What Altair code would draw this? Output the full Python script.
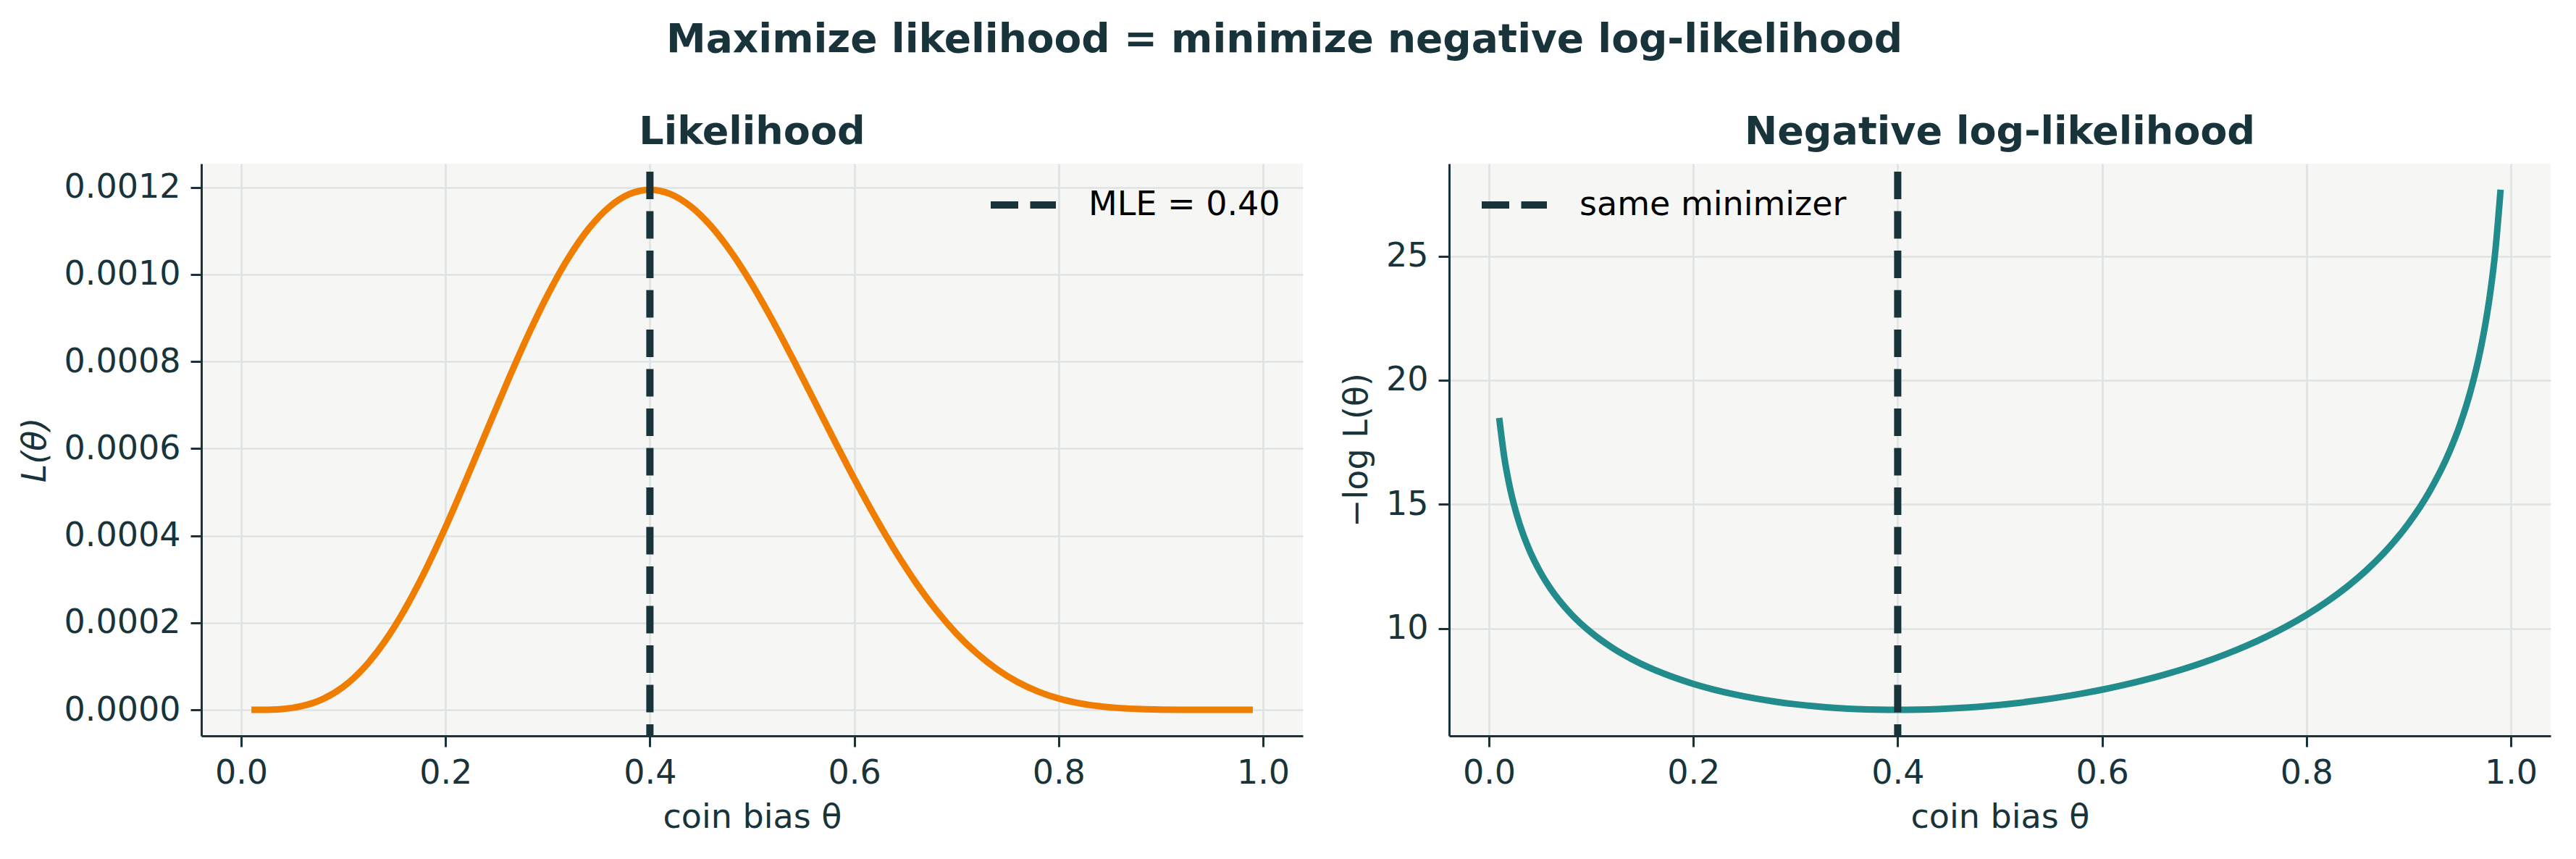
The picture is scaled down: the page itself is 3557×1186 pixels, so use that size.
import altair as alt
import pandas as pd

# ---- data (coin bias grid, likelihood, negative log-likelihood)
theta = [0.01, 0.015, 0.02, 0.025, 0.03, 0.04, 0.05, 0.06, 0.08, 0.10,
         0.12, 0.14, 0.16, 0.18, 0.20, 0.22, 0.24, 0.26, 0.28, 0.30,
         0.32, 0.34, 0.36, 0.38, 0.40, 0.42, 0.44, 0.46, 0.48, 0.50,
         0.52, 0.54, 0.56, 0.58, 0.60, 0.62, 0.64, 0.66, 0.68, 0.70,
         0.72, 0.74, 0.76, 0.78, 0.80, 0.82, 0.84, 0.86, 0.88, 0.90,
         0.92, 0.94, 0.95, 0.96, 0.965, 0.97, 0.975, 0.98, 0.985, 0.99]

likelihood = [9.41e-9, 4.62e-8, 1.417e-7, 3.356e-7, 6.747e-7, 2.004e-6, 4.594e-6, 8.941e-6, 2.4838e-5, 5.3144e-5,
              9.630e-5, 1.5542e-4, 2.3023e-4, 3.1914e-4, 4.1943e-4, 5.2761e-4, 6.3933e-4, 7.5038e-4, 8.5630e-4, 9.5296e-4,
              1.03670e-3, 1.10454e-3, 1.15422e-3, 1.18436e-3, 1.19439e-3, 1.18459e-3, 1.15595e-3, 1.11018e-3, 1.04953e-3, 9.7656e-4,
              8.9428e-4, 8.0560e-4, 7.1362e-4, 6.2116e-4, 5.3084e-4, 4.4490e-4, 3.6521e-4, 2.9312e-4, 2.2957e-4, 1.7503e-4,
              1.2950e-4, 9.263e-5, 6.375e-5, 4.197e-5, 2.621e-5, 1.538e-5, 8.35e-6, 4.12e-6, 1.79e-6, 6.56e-7,
              1.88e-7, 3.64e-8, 1.27e-8, 3.48e-9, 1.59e-9, 6.45e-10, 2.2e-10, 5.9e-11, 1.07e-11, 9.6e-13]

neg_log_lik = [18.4810, 16.8895, 15.7693, 14.9074, 14.2090, 13.1204, 12.2907, 11.6249, 10.6032, 9.8425,
               9.2481, 8.7694, 8.3764, 8.0499, 7.7766, 7.5473, 7.3551, 7.1949, 7.0629, 6.9559,
               6.8717, 6.8083, 6.7643, 6.7386, 6.7301, 6.7384, 6.7628, 6.8032, 6.8594, 6.9315,
               7.0195, 7.1239, 7.2452, 7.3839, 7.5410, 7.7176, 7.9151, 8.1349, 8.3793, 8.6505,
               8.9518, 9.2869, 9.6604, 10.0786, 10.5492, 11.0826, 11.6929, 12.4000, 13.2329, 14.2370,
               15.4879, 17.1280, 18.1796, 19.4765, 20.2570, 21.1612, 22.2345, 23.5529, 25.2587, 27.6712]

mle_theta = [0.40]
left_legend_label = ["MLE = 0.40"]
right_legend_label = ["same minimizer"]

x_ticks = [0.0, 0.2, 0.4, 0.6, 0.8, 1.0]
yL_ticks = [0.0, 0.0002, 0.0004, 0.0006, 0.0008, 0.0010, 0.0012]
yN_ticks = [10, 15, 20, 25]

x_domain = [-0.039, 1.039]
yL_domain = [-0.0000597, 0.0012541]
yN_domain = [5.683, 28.718]

main_title = "Maximize likelihood = minimize negative log-likelihood"
left_title = "Likelihood"
right_title = "Negative log-likelihood"
x_label = "coin bias θ"
yL_label = "L(θ)"
yN_label = "−log L(θ)"

# ---- styles
DARK = "#18343a"
ORANGE = "#ef7d00"
TEAL = "#228b8b"
BG = "#f6f6f4"
GRID = "#dde3e3"
FONT = "DejaVu Sans"
W, H = 1521, 790
DASH = [38, 16.5]

curve = pd.DataFrame({"theta": theta, "L": likelihood, "nll": neg_log_lik})
mle_left = pd.DataFrame({"theta": mle_theta, "label": left_legend_label})
mle_right = pd.DataFrame({"theta": mle_theta, "label": right_legend_label})


def x_enc():
    return alt.X("theta:Q",
                 scale=alt.Scale(domain=x_domain, nice=False, zero=False),
                 axis=alt.Axis(values=x_ticks, format=".1f", title=x_label))


def legend(lx, ly):
    return alt.Legend(title=None, orient="none", legendX=lx, legendY=ly,
                      symbolType="stroke", symbolStrokeWidth=10, symbolDash=DASH,
                      symbolSize=8100, labelFontSize=46, labelColor="#000000",
                      labelFont=FONT, labelOffset=40, labelLimit=2000, padding=0)


def panel_title(text):
    return alt.TitleParams(text, fontSize=54, fontWeight="bold", color=DARK, font=FONT,
                           anchor="middle", frame="group", baseline="alphabetic", offset=-32)


left_line = alt.Chart(curve).mark_line(color=ORANGE, strokeWidth=9, interpolate="monotone").encode(
    x=x_enc(),
    y=alt.Y("L:Q", scale=alt.Scale(domain=yL_domain, nice=False, zero=False),
            axis=alt.Axis(values=yL_ticks, format=".4f", title=yL_label, titleFontStyle="italic")),
)
left_rule = alt.Chart(mle_left).mark_rule(strokeWidth=10, strokeDash=DASH, strokeDashOffset=43.5).encode(
    x="theta:Q",
    color=alt.Color("label:N", scale=alt.Scale(range=[DARK]), legend=legend(1085, 7)),
)
left = alt.layer(left_line, left_rule).properties(width=W, height=H, title=panel_title(left_title))

right_line = alt.Chart(curve).mark_line(color=TEAL, strokeWidth=9, interpolate="monotone").encode(
    x=x_enc(),
    y=alt.Y("nll:Q", scale=alt.Scale(domain=yN_domain, nice=False, zero=False),
            axis=alt.Axis(values=yN_ticks, format="d", title=yN_label)),
)
right_rule = alt.Chart(mle_right).mark_rule(strokeWidth=10, strokeDash=DASH, strokeDashOffset=43.5).encode(
    x="theta:Q",
    color=alt.Color("label:N", scale=alt.Scale(range=[DARK]), legend=legend(40, 7)),
)
right = alt.layer(right_line, right_rule).properties(width=W, height=H, title=panel_title(right_title))

chart = alt.hconcat(left, right, spacing=51).resolve_scale(
    x="independent", y="independent", color="independent"
).resolve_legend(color="independent").properties(
    title=alt.TitleParams(main_title, fontSize=55, fontWeight="bold", color=DARK, font=FONT,
                          anchor="middle", baseline="alphabetic", offset=29),
    padding={"left": 17, "top": 20, "right": 5, "bottom": 5},
    background="white",
).configure_view(fill=BG, stroke=None).configure_axis(
    domainColor=DARK, domainWidth=3, tickColor=DARK, tickWidth=3, tickSize=15,
    labelFont=FONT, labelFontSize=46, labelColor=DARK, labelPadding=14, labelFlush=False,
    titleFont=FONT, titleFontSize=46, titleColor=DARK, titleFontWeight="normal", titlePadding=16,
    gridColor=GRID, gridWidth=2.5,
)

chart.save("out.html", embed_options={"renderer": "svg", "actions": False})
